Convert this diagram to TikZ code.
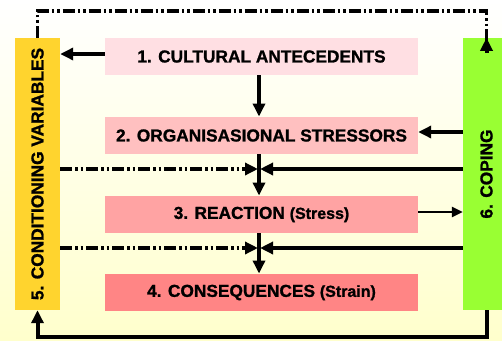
\documentclass[tikz,border=0pt]{standalone}
\usepackage{fontspec}
\setmainfont{Liberation Sans}[BoldFeatures={FakeBold=1.2}]
\usetikzlibrary{arrows.meta}
\definecolor{bgtop}{HTML}{FFFFFF}
\definecolor{bgbot}{HTML}{FFFFCC}
\definecolor{cyel}{HTML}{FFD42E}
\definecolor{cgrn}{HTML}{99FF33}
\definecolor{cb1}{HTML}{FFDFE3}
\definecolor{cb2}{HTML}{FFC0C0}
\definecolor{cb3}{HTML}{FFA3A3}
\definecolor{cb4}{HTML}{FF8585}
\tikzset{
  lbl/.style={font=\fontsize{17.3}{20}\bfseries\selectfont},
  mainbox/.style={rectangle, minimum width=313pt, minimum height=37.5pt, inner sep=0pt, lbl},
  sidebox/.style={rectangle, minimum height=272pt, inner sep=0pt, lbl},
  tip/.style={-{Triangle[length=13pt,width=12pt]}},
  smtip/.style={-{Triangle[length=11pt,width=10pt]}},
  thickln/.style={line width=4pt},
  thinln/.style={line width=2.8pt},
  dotln/.style={line width=3.6pt, dash pattern=on 12pt off 3pt on 2.5pt off 3pt on 2.5pt off 3pt}
}
\begin{document}
\begin{tikzpicture}[x=1pt,y=-1pt]
\useasboundingbox (0,0) rectangle (502,340);
\clip (0,0) rectangle (502,340);
\shade[top color=bgtop, bottom color=bgbot] (0,0) rectangle (502,340);
% boxes
\node[sidebox, fill=cyel, minimum width=45pt] (yel) at (37.5,174) {};
\node[lbl, rotate=90] (yeltxt) at (yel.center) {5. CONDITIONING VARIABLES};
\node[sidebox, fill=cgrn, minimum width=47pt] (grn) at (486.5,174) {};
\node[lbl, rotate=90] (grntxt) at (grn.center) {6. COPING};
\node[mainbox, fill=cb1] (b1) at (261.5,56.5) {1. CULTURAL ANTECEDENTS};
\node[mainbox, fill=cb2] (b2) at (261.5,135.5) {2. ORGANISASIONAL STRESSORS};
\node[mainbox, fill=cb3] (b3) at (261.5,214.5) {3. REACTION {\fontsize{16}{20}\selectfont(Stress)}};
\node[mainbox, fill=cb4] (b4) at (261.5,292.5) {4. CONSEQUENCES {\fontsize{16}{20}\selectfont(Strain)}};
% helper coordinates
\coordinate (sp) at (259,0);
\coordinate (j1) at (259,169);
\coordinate (j2) at (259,248);
\coordinate (top) at (0,11);
\coordinate (bot) at (0,337);
% arrows
\draw[thickln, tip] (b1.west |- 0,54) -- (yel.east |- 0,54);
\draw[thickln, tip] (b1.south -| sp) -- (b2.north -| sp);
\draw[thickln, tip] (grn.west |- 0,132) -- (b2.east |- 0,132);
\draw[thickln, tip] (b2.south -| sp) -- (b3.north -| sp);
\draw[thickln, tip] (b3.south -| sp) -- (b4.north -| sp);
\draw[thinln, smtip] (b3.east |- 0,212) -- (grn.west |- 0,212);
% junction 1
\draw[dotln] (yel.east |- j1) -- ([xshift=-15pt]j1);
\draw[thickln, tip] ([xshift=-15pt]j1) -- ([xshift=-1pt]j1);
\draw[thickln, tip] (grn.west |- j1) -- ([xshift=1pt]j1);
% junction 2
\draw[dotln] (yel.east |- j2) -- ([xshift=-15pt]j2);
\draw[thickln, tip] ([xshift=-15pt]j2) -- ([xshift=-1pt]j2);
\draw[line width=4.6pt, tip] (grn.west |- j2) -- ([xshift=1pt]j2);
% feedback loops
\draw[dotln] (yel.north) -- (yel.north |- top) -- (grn.north |- top) -- ([yshift=-15pt]grn.north);
\draw[thickln, tip] ([yshift=-15pt]grn.north) -- (grn.north);
\draw[thickln, tip] (grn.south) -- (grn.south |- bot) -- (yel.south |- bot) -- (yel.south);
\end{tikzpicture}
\end{document}
